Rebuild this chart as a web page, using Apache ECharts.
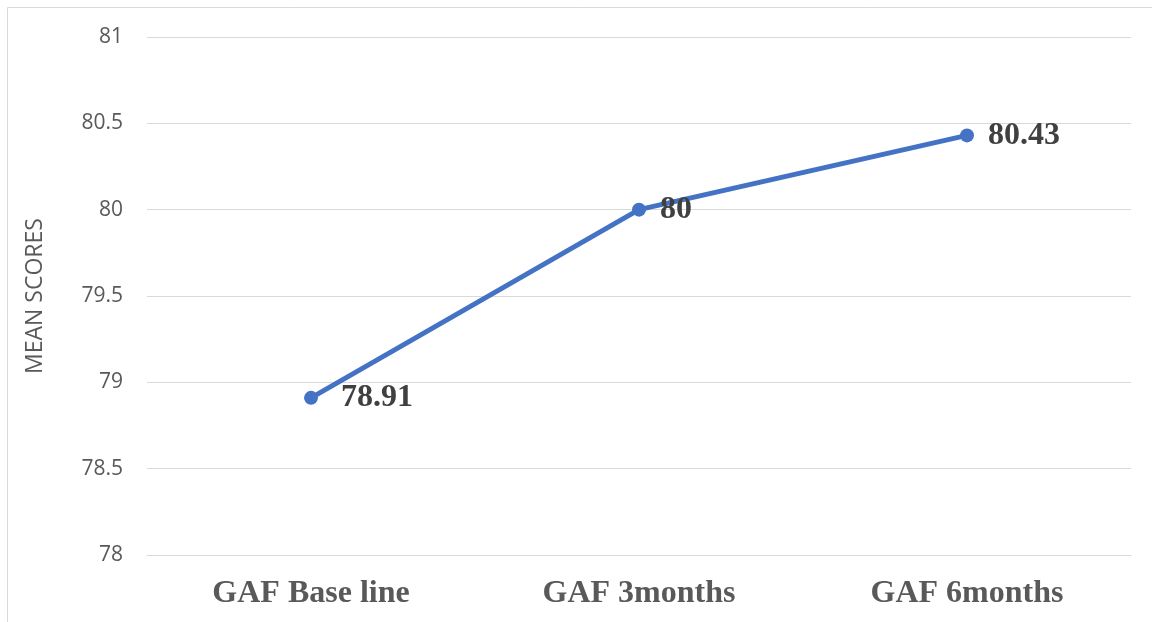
<!DOCTYPE html>
<html>
<head>
<meta charset="utf-8">
<script src="https://cdn.jsdelivr.net/npm/echarts@6/dist/echarts.min.js"></script>
<style>html,body{margin:0;padding:0;background:#fff}#c{width:1152px;height:622px}</style>
</head>
<body>
<div id="c"></div>
<script>
var categories = ['GAF Base line', 'GAF 3months', 'GAF 6months'];
var meanScores = [78.91, 80, 80.43];
var yTicks = [78, 78.5, 79, 79.5, 80, 80.5, 81];

var chart = echarts.init(document.getElementById('c'), null, {renderer: 'canvas'});
chart.setOption({
  backgroundColor: '#ffffff',
  animation: false,
  graphic: [{
    type: 'rect', silent: true,
    shape: {x: 7.5, y: 7.5, width: 1300, height: 800},
    style: {fill: 'none', stroke: '#d9d9d9', lineWidth: 1}
  }],
  grid: {left: 147, right: 21, top: 37, bottom: 67},
  xAxis: {
    type: 'category',
    data: categories,
    boundaryGap: true,
    axisLine: {show: true, lineStyle: {color: '#d9d9d9', width: 1}},
    axisTick: {show: false},
    axisLabel: {
      margin: 23,
      color: '#595959',
      fontFamily: 'Liberation Serif',
      fontWeight: 'bold',
      fontSize: 32
    }
  },
  yAxis: {
    type: 'value',
    min: yTicks[0],
    max: yTicks[yTicks.length - 1],
    interval: 0.5,
    name: 'MEAN SCORES',
    nameLocation: 'middle',
    nameGap: 100,
    nameRotate: 90,
    nameTextStyle: {color: '#595959', fontFamily: 'Open Sans', fontSize: 23},
    axisLine: {show: false},
    axisTick: {show: false},
    splitLine: {lineStyle: {color: '#d9d9d9', width: 1}},
    axisLabel: {
      margin: 24,
      color: '#595959',
      fontFamily: 'Open Sans',
      fontSize: 21
    }
  },
  series: [{
    type: 'line',
    data: meanScores.map(function (v, i) {
      var d = {value: v};
      if (i === 0) d.label = {offset: [9, 0]};
      return d;
    }),
    symbol: 'circle',
    symbolSize: 14,
    itemStyle: {color: '#4472c4'},
    lineStyle: {color: '#4472c4', width: 5},
    label: {
      show: true,
      position: 'right',
      distance: 14,
      color: '#404040',
      fontFamily: 'Liberation Serif',
      fontWeight: 'bold',
      fontSize: 32
    }
  }]
});
</script>
</body>
</html>
